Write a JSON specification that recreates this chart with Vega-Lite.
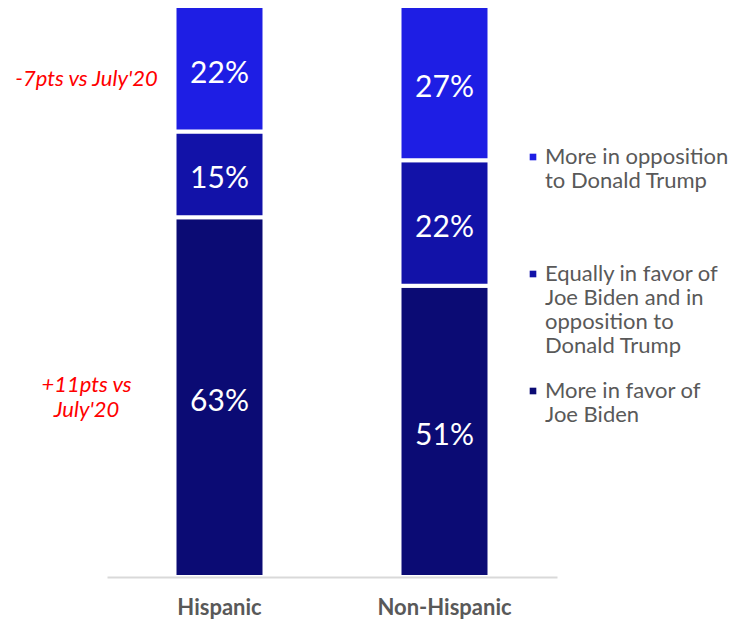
{
  "$schema": "https://vega.github.io/schema/vega-lite/v6.json",
  "width": 450,
  "height": 571,
  "autosize": {"type": "none"},
  "padding": {"left": 107, "top": 6, "right": 179, "bottom": 43},
  "background": "white",
  "config": {"view": {"stroke": null}, "font": "Lato"},
  "data": {
    "values": [
      {"group": "Hispanic", "category": "More in favor of Joe Biden", "value": 63, "order": 1, "note": "+11pts vs|July'20"},
      {"group": "Hispanic", "category": "Equally in favor of Joe Biden and in opposition to Donald Trump", "value": 15, "order": 2, "note": ""},
      {"group": "Hispanic", "category": "More in opposition to Donald Trump", "value": 22, "order": 3, "note": "-7pts vs July'20"},
      {"group": "Non-Hispanic", "category": "More in favor of Joe Biden", "value": 51, "order": 1, "note": ""},
      {"group": "Non-Hispanic", "category": "Equally in favor of Joe Biden and in opposition to Donald Trump", "value": 22, "order": 2, "note": ""},
      {"group": "Non-Hispanic", "category": "More in opposition to Donald Trump", "value": 27, "order": 3, "note": ""}
    ]
  },
  "transform": [
    {"stack": "value", "groupby": ["group"], "sort": [{"field": "order", "order": "ascending"}], "as": ["v0", "v1"]},
    {"calculate": "(datum.v0 + datum.v1) / 2", "as": "mid"}
  ],
  "encoding": {
    "x": {
      "field": "group", "type": "nominal", "sort": ["Hispanic", "Non-Hispanic"],
      "scale": {"paddingInner": 0.6, "paddingOuter": 0.3},
      "axis": {"title": null, "labelAngle": 0, "labelFontSize": 22, "labelFontWeight": "bold", "labelColor": "#595959", "ticks": false, "domainColor": "#D9D9D9", "domainWidth": 2, "labelPadding": 20, "zindex": 1}
    }
  },
  "layer": [
    {
      "mark": {"type": "bar", "stroke": "white", "strokeWidth": 4},
      "encoding": {
        "y": {"field": "v0", "type": "quantitative", "scale": {"domain": [0, 100]}, "axis": null},
        "y2": {"field": "v1"},
        "color": {
          "field": "category", "type": "nominal",
          "scale": {
            "domain": ["More in opposition to Donald Trump", "Equally in favor of Joe Biden and in opposition to Donald Trump", "More in favor of Joe Biden"],
            "range": ["#1E1EE4", "#1212A8", "#0B0B74"]
          },
          "legend": {
            "orient": "none", "legendX": 415, "legendY": 140, "title": null,
            "symbolType": "square", "symbolSize": 44, "symbolStrokeWidth": 0,
            "labelFontSize": 22, "labelColor": "#595959", "labelLimit": 300, "labelOffset": 1,
            "rowPadding": 23, "labelBaseline": "middle",
            "labelExpr": "datum.value == 'More in opposition to Donald Trump' ? ['More in opposition', 'to Donald Trump', '', ''] : datum.value == 'More in favor of Joe Biden' ? ['More in favor of', 'Joe Biden', '', ''] : ['Equally in favor of', 'Joe Biden and in', 'opposition to', 'Donald Trump']"
          }
        }
      }
    },
    {
      "mark": {"type": "text", "color": "white", "fontSize": 30, "baseline": "middle", "dy": 5},
      "encoding": {
        "y": {"field": "mid", "type": "quantitative", "scale": {"domain": [0, 100]}},
        "text": {"value": {"expr": "datum.value + '%'"}}
      }
    },
    {
      "transform": [{"filter": "datum.order == 3"}],
      "mark": {"type": "text", "color": "#FF0000", "fontSize": 22, "fontStyle": "italic", "baseline": "middle", "align": "center", "dx": -133, "dy": 10, "lineBreak": "|", "lineHeight": 25},
      "encoding": {
        "y": {"field": "mid", "type": "quantitative", "scale": {"domain": [0, 100]}},
        "text": {"field": "note", "type": "nominal"}
      }
    },
    {
      "transform": [{"filter": "datum.order == 1"}],
      "mark": {"type": "text", "color": "#FF0000", "fontSize": 22, "fontStyle": "italic", "baseline": "middle", "align": "center", "dx": -133, "dy": -12, "lineBreak": "|", "lineHeight": 25},
      "encoding": {
        "y": {"field": "mid", "type": "quantitative", "scale": {"domain": [0, 100]}},
        "text": {"field": "note", "type": "nominal"}
      }
    }
  ]
}
